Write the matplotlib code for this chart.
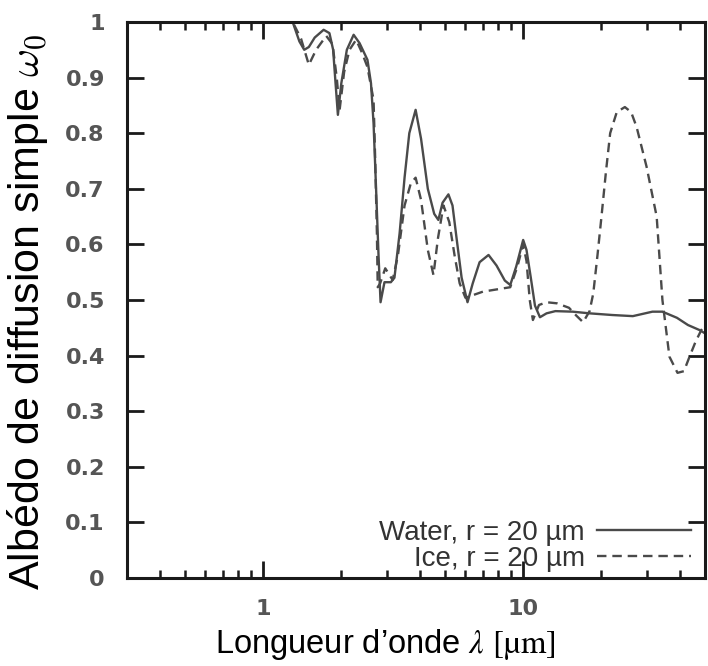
import matplotlib
matplotlib.use("Agg")
import matplotlib.pyplot as plt
from matplotlib.ticker import LogLocator, FixedLocator, NullFormatter, FixedFormatter

# Wavelength (µm) and single-scattering albedo
water_lambda = [0.3, 1.30, 1.38, 1.44, 1.50, 1.58, 1.71, 1.80, 1.86, 1.90, 1.94, 2.00, 2.10,
                2.23, 2.35, 2.52, 2.60, 2.66, 2.72, 2.78, 2.83, 2.93, 3.10, 3.20, 3.35, 3.50,
                3.65, 3.86, 4.05, 4.30, 4.55, 4.72, 4.90, 5.16, 5.35, 5.55, 5.80, 6.11, 6.40,
                6.80, 7.36, 7.90, 8.50, 8.92, 9.40, 10.0, 10.3, 10.7, 11.1, 11.6, 12.3, 13.3,
                15.5, 18.0, 22.0, 26.4, 31.4, 34.3, 39.0, 43.0, 47.6, 50.0]
water_omega = [1.0, 1.0, 0.965, 0.95, 0.955, 0.972, 0.986, 0.98, 0.95, 0.89, 0.833, 0.89, 0.95,
               0.977, 0.962, 0.932, 0.89, 0.818, 0.70, 0.58, 0.496, 0.532, 0.532, 0.54, 0.62, 0.72,
               0.80, 0.842, 0.79, 0.70, 0.655, 0.644, 0.675, 0.69, 0.67, 0.61, 0.54, 0.496, 0.53,
               0.568, 0.581, 0.562, 0.535, 0.527, 0.56, 0.608, 0.59, 0.54, 0.49, 0.469, 0.476, 0.48,
               0.479, 0.476, 0.473, 0.471, 0.479, 0.479, 0.468, 0.455, 0.446, 0.44]

ice_lambda = [0.3, 1.30, 1.40, 1.50, 1.60, 1.75, 1.85, 1.92, 1.97, 2.05, 2.15, 2.28,
              2.40, 2.52, 2.66, 2.70, 2.74, 2.76, 2.82, 2.95, 3.15, 3.30, 3.50, 3.70, 3.86,
              4.05, 4.30, 4.52, 4.70, 4.94, 5.20, 5.45, 5.70, 6.00, 7.00, 8.92, 9.50, 10.0,
              10.3, 10.6, 10.9, 11.5, 12.3, 13.5, 15.0, 16.0, 17.0, 18.0, 18.6, 19.3, 20.0,
              20.8, 21.6, 22.9, 24.6, 26.0, 27.3, 29.8, 32.6, 34.3, 36.5, 39.2, 41.5, 43.6,
              46.0, 48.4, 50.0]
ice_omega = [1.0, 1.0, 0.97, 0.923, 0.95, 0.975, 0.96, 0.90, 0.842, 0.91, 0.95, 0.968,
             0.945, 0.919, 0.86, 0.75, 0.62, 0.523, 0.53, 0.557, 0.536, 0.58, 0.67, 0.71, 0.72,
             0.68, 0.59, 0.545, 0.61, 0.67, 0.64, 0.58, 0.53, 0.504, 0.515, 0.523, 0.56, 0.60,
             0.57, 0.50, 0.464, 0.491, 0.496, 0.494, 0.486, 0.472, 0.46, 0.48, 0.512, 0.58, 0.65,
             0.73, 0.80, 0.838, 0.847, 0.838, 0.811, 0.74, 0.65, 0.50, 0.398, 0.369, 0.372, 0.398,
             0.425, 0.446, 0.455]

series_labels = ["Water, r = 20 µm", "Ice, r = 20 µm"]
y_ticks = [0, 0.1, 0.2, 0.3, 0.4, 0.5, 0.6, 0.7, 0.8, 0.9, 1]
y_tick_labels = ["0", "0.1", "0.2", "0.3", "0.4", "0.5", "0.6", "0.7", "0.8", "0.9", "1"]
x_ticks = [1, 10]
x_tick_labels = ["1", "10"]

plt.rcParams["mathtext.fontset"] = "cm"

fig = plt.figure(figsize=(7.08, 6.66), dpi=100)
ax = fig.add_axes([127 / 708, 88 / 666, 578 / 708, 556 / 666])

line_col = "#4a4a4a"
ax.plot(water_lambda, water_omega, color=line_col, lw=1.7, label=series_labels[0])
ax.plot(ice_lambda, ice_omega, color=line_col, lw=1.7, dashes=(4, 2.5), label=series_labels[1])

ax.set_xscale("log")
ax.set_xlim(0.3, 50)
ax.set_ylim(0, 1)

ax.xaxis.set_major_locator(FixedLocator(x_ticks))
ax.xaxis.set_major_formatter(FixedFormatter(x_tick_labels))
ax.xaxis.set_minor_locator(LogLocator(base=10, subs=range(2, 10)))
ax.xaxis.set_minor_formatter(NullFormatter())
ax.set_yticks(y_ticks)
ax.set_yticklabels(y_tick_labels)

for s in ax.spines.values():
    s.set_linewidth(2.2)
    s.set_color("#1a1a1a")

ax.tick_params(which="both", direction="in", top=True, right=True, color="#1a1a1a")
ax.tick_params(which="major", length=12, width=2.0)
ax.tick_params(axis="y", which="major", pad=16)
ax.tick_params(axis="x", which="major", pad=15)
ax.tick_params(which="minor", length=6, width=1.8)
for lab in ax.get_xticklabels() + ax.get_yticklabels():
    lab.set_fontfamily("DejaVu Sans")
    lab.set_fontweight("bold")
    lab.set_fontsize(16)
    lab.set_color("#555555")

fig.text(385 / 708, 1 - 645 / 666, r"Longueur d’onde $\lambda$ $[\mathrm{µm}]$",
         fontsize=23.5, fontfamily="Liberation Sans", math_fontfamily="stix",
         ha="center", va="center")
fig.text(28 / 708, 1 - 312 / 666, r"Albédo de diffusion simple $\omega_0$",
         fontsize=31, fontfamily="Liberation Sans", ha="center", va="center", rotation=90)

leg = ax.legend(loc="lower right", bbox_to_anchor=(1.0, -0.014), markerfirst=False,
                frameon=False, prop={"family": "Liberation Sans", "size": 20},
                handlelength=3.4, handletextpad=0.43, labelspacing=0.0,
                borderaxespad=0.3, borderpad=0.2)
for t in leg.get_texts():
    t.set_color("#333333")

fig.savefig("out.png", dpi=100, facecolor="white")
